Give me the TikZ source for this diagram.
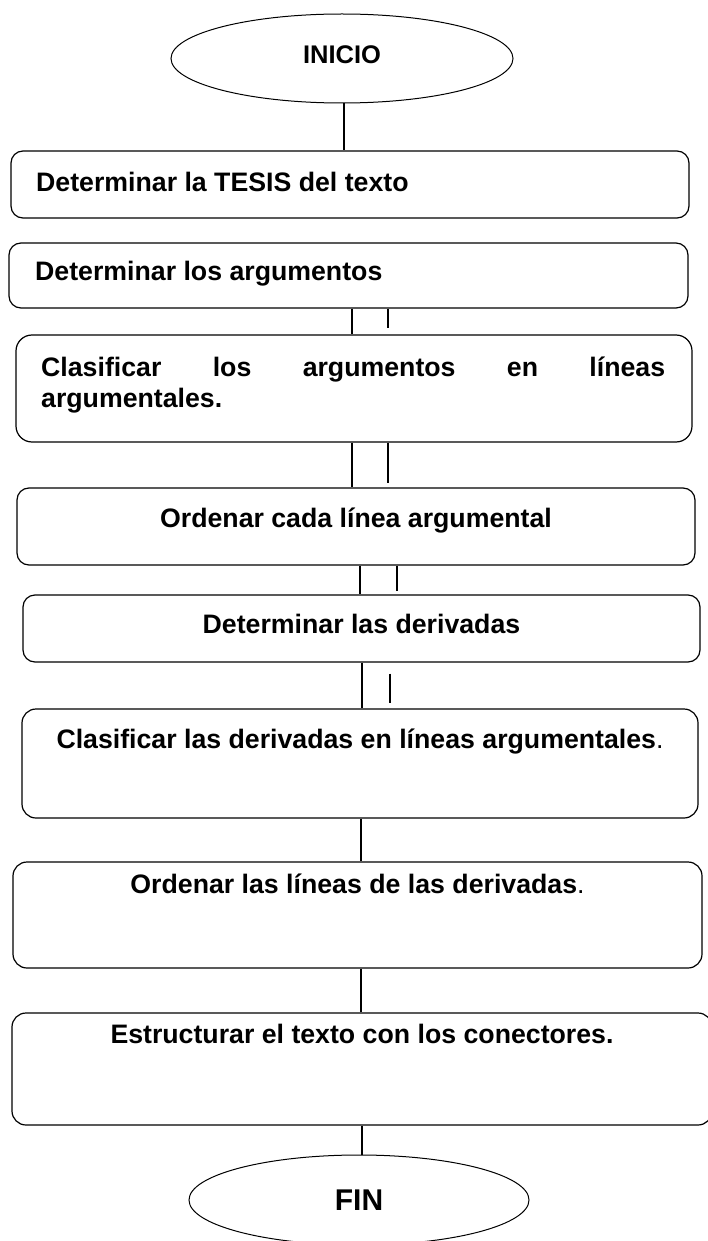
\documentclass[tikz,border=0pt]{standalone}
\usepackage{fontspec}
\setmainfont{Liberation Sans}
\usetikzlibrary{shapes.geometric}

\begin{document}
\begin{tikzpicture}[x=1pt, y=-1pt,
    procbox/.style={draw, rounded corners=12pt, line width=1.2pt, inner sep=0pt},
    terminal/.style={draw, ellipse, line width=1pt, inner sep=0pt},
    steptext/.style={inner sep=0pt, font=\fontsize{26.7}{31}\selectfont\bfseries},
    link/.style={line width=1.2pt}]

    \useasboundingbox (0,0) rectangle (708,1241);

    % Start and end
    \node[terminal, minimum width=342pt, minimum height=89pt, text depth=8pt,
          font=\fontsize{25.5}{30}\selectfont\bfseries] (ini) at (342,58.5) {INICIO};
    \node[terminal, minimum width=340pt, minimum height=90pt,
          font=\fontsize{30}{36}\selectfont\bfseries] (fin) at (359,1200) {FIN};

    % Boxes of the steps
    \node[procbox, minimum width=678pt, minimum height=67pt] (b1) at (350,184.5) {};
    \node[procbox, minimum width=679pt, minimum height=65pt] (b2) at (348.5,275.5) {};
    \node[procbox, minimum width=676pt, minimum height=107pt, rounded corners=16pt] (b3) at (354,388.5) {};
    \node[procbox, minimum width=678pt, minimum height=77pt] (b4) at (356,526.5) {};
    \node[procbox, minimum width=677pt, minimum height=67pt] (b5) at (361.5,628.5) {};
    \node[procbox, minimum width=676pt, minimum height=109pt, rounded corners=14pt] (b6) at (360,763.5) {};
    \node[procbox, minimum width=689pt, minimum height=106pt, rounded corners=14pt] (b7) at (357.5,915) {};
    \node[procbox, minimum width=700pt, minimum height=112pt, rounded corners=14pt] (b8) at (362,1069) {};

    % Texts of the steps
    \node[steptext, anchor=base west] (t1) at (36,192) {Determinar la TESIS del texto};
    \node[steptext, anchor=base west] (t2) at (35,280) {Determinar los argumentos};
    \node[steptext, anchor=north west, text width=624pt, align=justify] (t3) at (41,357)
        {Clasificar\hfill los\hfill argumentos\hfill en\hfill líneas\\ argumentales.};
    \node[steptext, anchor=base] (t4) at (356,527) {Ordenar cada línea argumental};
    \node[steptext, anchor=base] (t5) at (361.5,633) {Determinar las derivadas};
    \node[steptext, anchor=base] (t6) at (360,748) {Clasificar las derivadas en líneas argumentales{\mdseries.}};
    \node[steptext, anchor=base] (t7) at (357.5,893) {Ordenar las líneas de las derivadas{\mdseries.}};
    \node[steptext, anchor=base] (t8) at (362,1043) {Estructurar el texto con los conectores.};

    % Connectors
    \draw[link] ([xshift=2pt]ini.south) -- ([xshift=-6pt]b1.north);
    \draw[link] ([xshift=3.5pt]b2.south) -- ([xshift=-2pt]b3.north);
    \draw[link] ([xshift=39.5pt]b2.south) -- ++(0,19);
    \draw[link] ([xshift=-2pt]b3.south) -- ([xshift=-4pt]b4.north);
    \draw[link] ([xshift=34pt]b3.south) -- ++(0,40);
    \draw[link] ([xshift=4pt]b4.south) -- ([xshift=-1.5pt]b5.north);
    \draw[link] ([xshift=41pt]b4.south) -- ++(0,25);
    \draw[link] ([xshift=0.5pt]b5.south) -- ([xshift=2pt]b6.north);
    \draw[link] ([xshift=28.5pt,yshift=-11pt]b5.south) -- ++(0,29);
    \draw[link] ([xshift=1pt]b6.south) -- ([xshift=3.5pt]b7.north);
    \draw[link] ([xshift=3.5pt]b7.south) -- ([xshift=-1pt]b8.north);
    \draw[link] (b8.south) -- ([xshift=3pt]fin.north);

\end{tikzpicture}
\end{document}
